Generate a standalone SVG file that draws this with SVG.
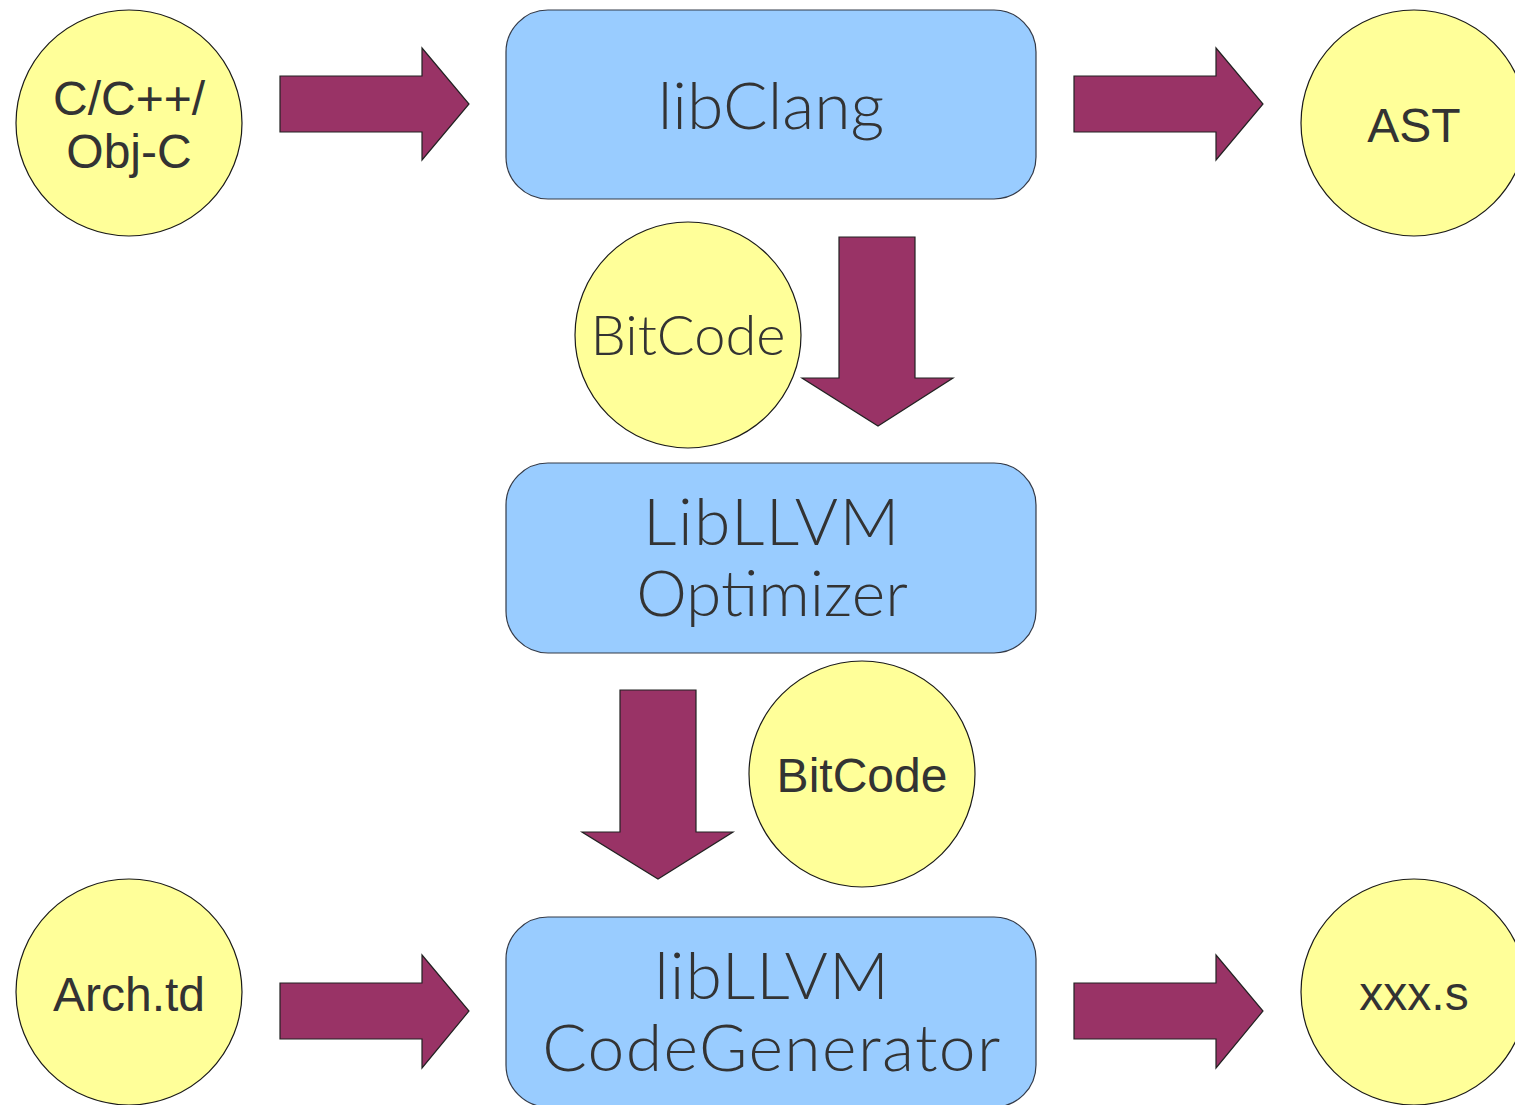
<svg xmlns="http://www.w3.org/2000/svg" width="1515" height="1105" viewBox="0 0 1515 1105">
<style>
.circ{fill:#ffff99;stroke:#1a1a1a;stroke-width:1.2}
.box{fill:#99ccff;stroke:#333a48;stroke-width:1.2}
.arr{fill:#993366;stroke:#222;stroke-width:1.2}
.sans{font-family:"Liberation Sans",Arial,sans-serif;fill:#333333;text-anchor:middle;font-size:48px}
.thin{font-family:"Lato","Open Sans",sans-serif;font-weight:300;fill:#333333;text-anchor:middle;font-size:66px}
</style>
<rect width="1515" height="1105" fill="#ffffff"/>
<g id="connectors">
<path class="arr" d="M280,76 H422 V48 L469,104 L422,160 V132 H280 Z"/>
<path class="arr" d="M1074,76 H1216 V48 L1263,104 L1216,160 V132 H1074 Z"/>
<path class="arr" d="M280,983 H422 V955 L469,1011 L422,1068 V1039 H280 Z"/>
<path class="arr" d="M1074,983 H1216 V955 L1263,1011 L1216,1068 V1039 H1074 Z"/>
<path class="arr" d="M839,237 H915 V378 H953 L878,426 L802,378 H839 Z"/>
<path class="arr" d="M620,690 H696 V832 H733 L658,879 L582,832 H620 Z"/>
</g>
<g id="src">
<circle class="circ" cx="129" cy="123" r="113"/>
<text class="sans" x="129" y="115">C/C++/</text>
<text class="sans" x="129" y="168">Obj-C</text>
</g>
<g id="libclang">
<rect class="box" x="506" y="10" width="530" height="189" rx="42"/>
<text class="thin" x="771" y="129">libClang</text>
</g>
<g id="ast">
<circle class="circ" cx="1414" cy="123" r="113"/>
<text class="sans" x="1414" y="142">AST</text>
</g>
<g id="bitcode1">
<circle class="circ" cx="688" cy="335" r="113"/>
<text class="thin" x="688" y="355" style="font-size:56px">BitCode</text>
</g>
<g id="optimizer">
<rect class="box" x="506" y="463" width="530" height="190" rx="42"/>
<text class="thin" x="772" y="545" letter-spacing="1.5">LibLLVM</text>
<text class="thin" x="772" y="616" style="font-size:64px">Optimizer</text>
</g>
<g id="bitcode2">
<circle class="circ" cx="862" cy="774" r="113"/>
<text class="sans" x="862" y="792">BitCode</text>
</g>
<g id="archtd">
<circle class="circ" cx="129" cy="992" r="113"/>
<text class="sans" x="129" y="1011">Arch.td</text>
</g>
<g id="codegen">
<rect class="box" x="506" y="917" width="530" height="190" rx="42"/>
<text class="thin" x="772" y="999" letter-spacing="1">libLLVM</text>
<text class="thin" x="772" y="1071" letter-spacing="1.4">CodeGenerator</text>
</g>
<g id="xxxs">
<circle class="circ" cx="1414" cy="992" r="113"/>
<text class="sans" x="1414" y="1010">xxx.s</text>
</g>
</svg>
